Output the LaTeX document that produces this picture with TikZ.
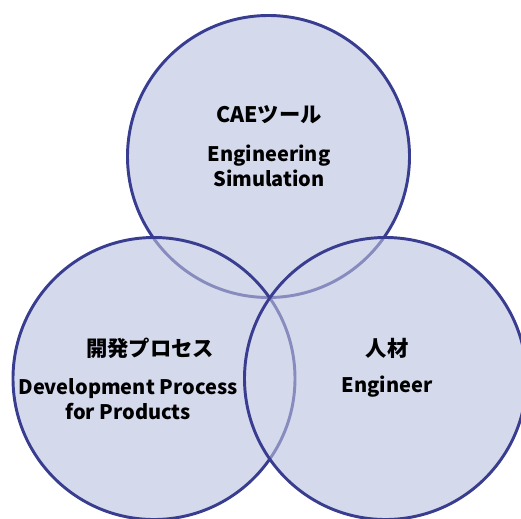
\documentclass[tikz,border=0pt]{standalone}
\usepackage{fontspec}
\setmainfont{Noto Sans CJK JP}
\usetikzlibrary{positioning}
\definecolor{ringfill}{RGB}{213,217,236}
\definecolor{ringline}{RGB}{57,61,143}

\begin{document}
\begin{tikzpicture}[x=0.75pt,y=-0.75pt]
	\tikzset{ring/.style={circle, draw=ringline, line width=2.2pt, fill=ringfill, fill opacity=0.5, minimum size=211.5pt, inner sep=0pt},
		lbl/.style={font=\bfseries\fontsize{15}{18.75}\selectfont, align=center, inner sep=0pt},
		lblja/.style={lbl, font=\bfseries\fontsize{16}{18.75}\selectfont}}
	\useasboundingbox (0,0) rectangle (521,518);
	\clip (0,0) rectangle (521,518);
	% opaque ground under the three sets
	\foreach \cx/\cy in {268.5/156.5, 154/378.5, 385.5/378.5}
		\fill[ringfill] (\cx,\cy) circle (106.5pt);
	\node[ring] (tool) at (268.5,156.5) {};
	\node[ring] (process) at (154,378.5) {};
	\node[ring] (people) at (385.5,378.5) {};
	% labels
	\node[lblja] (toolJa) at (269,115) {CAEツール};
	\node[lbl] (toolEn) at (269,165.5) {Engineering\\Simulation};
	\node[lblja] (processJa) at (150,348) {開発プロセス};
	\node[lbl] (processEn) at (128,399.5) {Development Process\\for Products};
	\node[lblja] (peopleJa) at (387,348) {人材};
	\node[lbl] (peopleEn) at (387,387) {Engineer};
\end{tikzpicture}
\end{document}
